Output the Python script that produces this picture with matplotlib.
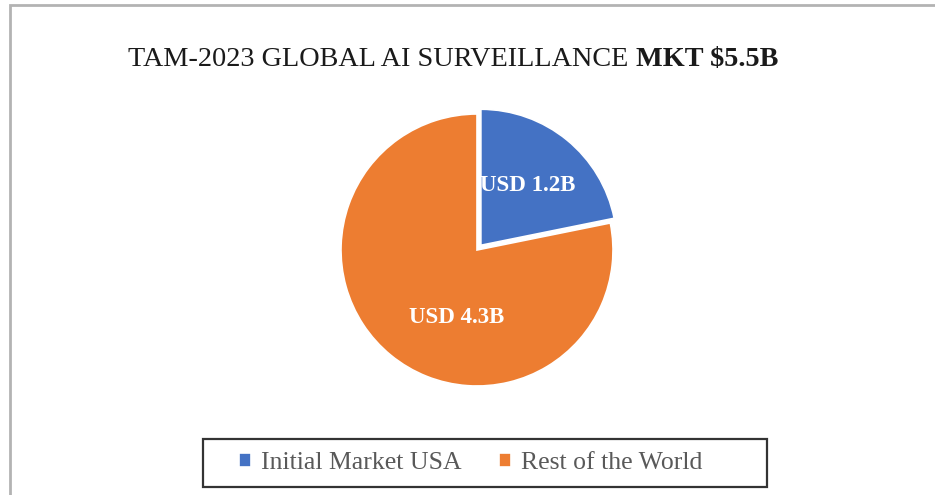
import matplotlib.pyplot as plt
import numpy as np
from matplotlib.patches import Rectangle

plt.rcParams["font.family"] = ["Liberation Serif", "DejaVu Serif"]

# datos del grafico
categorias = ["Initial Market USA", "Rest of the World"]
valores = [1.2, 4.3]
etiquetas = ["USD 1.2B", "USD 4.3B"]
colores = ["#4472C4", "#ED7D31"]
titulo = "TAM-2023 GLOBAL AI SURVEILLANCE "
tituloBold = "MKT $5.5B"

W, H = 935, 495
fig = plt.figure(figsize=(W / 100, H / 100), dpi=100)
fig.patch.set_facecolor("white")

# borde gris exterior
fig.patches.append(
    Rectangle((9.5 / W, -0.1), 1.2, (H - 5) / H + 0.1, transform=fig.transFigure,
              fill=False, edgecolor="#b3b3b3", linewidth=2)
)

# ejes del pie: centro (477, 250) px, radio 136 px
radio = 136
cx, cy = 477, 250
ax = fig.add_axes([(cx - radio) / W, (H - cy - radio) / H, 2 * radio / W, 2 * radio / H])

wedges, _ = ax.pie(
    valores,
    colors=colores,
    startangle=90,
    counterclock=False,
    explode=[0.045, 0],
    wedgeprops=dict(edgecolor="white", linewidth=1.2),
)
ax.set_xlim(-1, 1)
ax.set_ylim(-1, 1)
ax.set_aspect("equal")

# etiquetas dentro de las porciones (angulo, distancia)
posEtiquetas = [(52, 0.60), (253, 0.52)]
for w, txt, (ang, dist) in zip(wedges, etiquetas, posEtiquetas):
    a = np.deg2rad(ang)
    ax.text(dist * np.cos(a), dist * np.sin(a), txt, ha="center", va="center",
            color="white", fontsize=16.5, fontweight="bold")

# titulo en dos partes (normal + negrita)
renderer = fig.canvas.get_renderer()
t1 = fig.text(0, (H - 60) / H, titulo, fontsize=20.3, color="#1a1a1a", va="center")
t2 = fig.text(0, (H - 60) / H, tituloBold, fontsize=20.3, color="#1a1a1a",
              va="center", fontweight="bold")
w1 = t1.get_window_extent(renderer).width
w2 = t2.get_window_extent(renderer).width
x0 = 453 - (w1 + w2) / 2
t1.set_x(x0 / W)
t2.set_x((x0 + w1) / W)

# leyenda
leg = fig.legend(
    wedges, categorias,
    loc="center", bbox_to_anchor=(470.5 / W, (H - 463) / H),
    ncol=2, frameon=False, fontsize=18.5,
    handlelength=0.47, handleheight=0.47, handletextpad=0.4, columnspacing=1.45,
)
for t in leg.get_texts():
    t.set_color("#595959")

fig.patches.append(
    Rectangle((203 / W, (H - 487) / H), 564 / W, 48 / H, transform=fig.transFigure,
              fill=False, edgecolor="#333333", linewidth=1.6)
)

fig.savefig("out.png", dpi=100, facecolor="white")
